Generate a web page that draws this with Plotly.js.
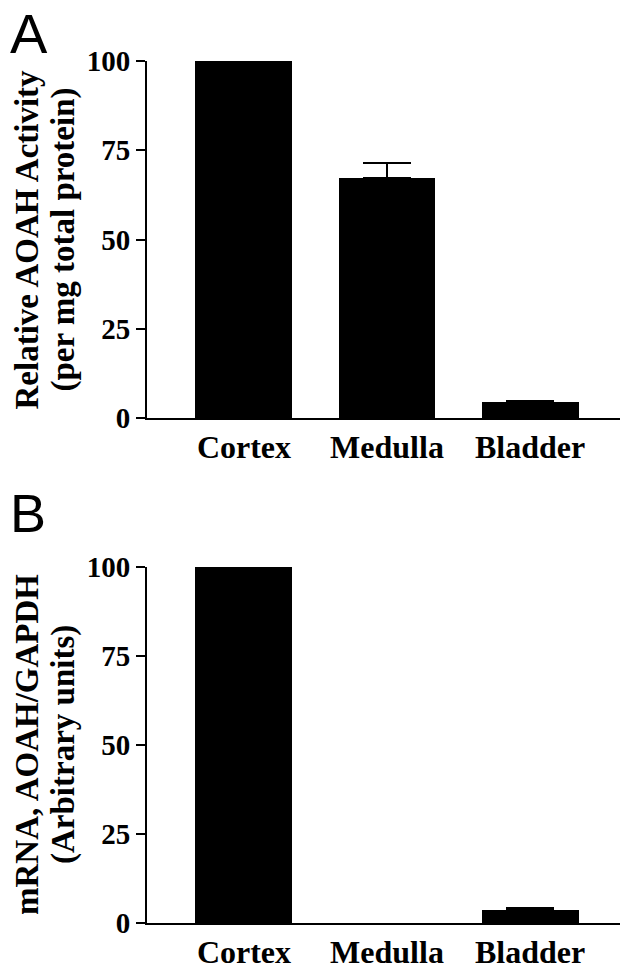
<!DOCTYPE html>
<html>
<head>
<meta charset="utf-8">
<script src="https://cdn.plot.ly/plotly-3.0.1.min.js"></script>
<style>html,body{margin:0;padding:0;background:#fff;}#chart{width:625px;height:964px;}</style>
</head>
<body>
<div id="chart"></div>
<script>
const categories = ["Cortex", "Medulla", "Bladder"];
const activityA = [100, 67.2, 4.4];
const activityErrA = [NaN, 4.2, 0.4];
const mrnaB = [100, 0, 3.7];
const mrnaErrB = [NaN, NaN, 0.4];
const yTicks = [0, 25, 50, 75, 100];
const yTickLabels = ["0", "25", "50", "75", "100"];
const titleA = ["Relative AOAH Activity", "(per mg total protein)"];
const titleB = ["mRNA, AOAH/GAPDH", "(Arbitrary units)"];

const serif = "Liberation Serif, Times New Roman, serif";
const sans = "Liberation Sans, Arial, sans-serif";
const W = 473, H = 862; // plot area size in px
const px = v => (v - 147) / W;
const py = v => (923 - v) / H;
const barColors = vals => vals.map(v => (v > 0 ? "#000" : "rgba(0,0,0,0)"));
const lowerErr = errs => errs.map(e => (isNaN(e) ? NaN : 0));

function errY(errs) {
  return {type: "data", symmetric: false, array: errs, arrayminus: lowerErr(errs),
    color: "#000", thickness: 2, width: 24};
}

const traces = [
  {type: "bar", x: categories, y: activityA, xaxis: "x", yaxis: "y",
   width: 0.678, marker: {color: barColors(activityA), line: {width: 0}}, error_y: errY(activityErrA)},
  {type: "bar", x: categories, y: mrnaB, xaxis: "x2", yaxis: "y2",
   width: 0.678, marker: {color: barColors(mrnaB), line: {width: 0}}, error_y: errY(mrnaErrB)}
];

const xCommon = {type: "category", range: [-0.678, 2.629], showline: true, linecolor: "#000", linewidth: 2,
  ticks: "", showgrid: false, zeroline: false, fixedrange: true,
  tickfont: {family: serif, size: 32, color: "#000", weight: "bold"}};
const yCommon = {range: [0, 100], tickvals: yTicks, ticktext: yTickLabels, showline: true, linecolor: "#000", linewidth: 2,
  ticks: "outside", ticklen: 9, tickwidth: 2, tickcolor: "#000", showgrid: false, zeroline: false,
  tickfont: {family: serif, size: 29, color: "#000", weight: "bold"}};

const titleFont = {family: serif, size: 33, color: "#000", weight: "bold"};
function titleAnn(text, xpx, top, bottom) {
  return {text: text, xref: "paper", yref: "paper", x: px(xpx), y: py((top + bottom) / 2),
    xanchor: "center", yanchor: "middle", textangle: -90, showarrow: false, font: titleFont};
}

const layout = {
  width: 625, height: 964, showlegend: false, bargap: 0,
  margin: {l: 147, r: 5, t: 61, b: 41},
  paper_bgcolor: "#fff", plot_bgcolor: "#fff",
  xaxis: Object.assign({}, xCommon, {anchor: "y"}),
  xaxis2: Object.assign({}, xCommon, {anchor: "y2"}),
  yaxis: Object.assign({}, yCommon, {anchor: "x", domain: [py(418), 1]}),
  yaxis2: Object.assign({}, yCommon, {anchor: "x2", domain: [0, py(567)]}),
  annotations: [
    titleAnn(titleA[0], 26, 61, 418),
    titleAnn(titleA[1], 63, 61, 418),
    titleAnn(titleB[0], 27, 567, 923),
    titleAnn(titleB[1], 63, 567, 923),
    {text: "A", xref: "paper", yref: "paper", x: px(8), y: py(0), xanchor: "left", yanchor: "top",
     showarrow: false, font: {family: sans, size: 56, color: "#000"}},
    {text: "B", xref: "paper", yref: "paper", x: px(8), y: py(481), xanchor: "left", yanchor: "top",
     showarrow: false, font: {family: sans, size: 54, color: "#000"}}
  ]
};

Plotly.newPlot("chart", traces, layout, {staticPlot: true, displayModeBar: false});
</script>
</body>
</html>
